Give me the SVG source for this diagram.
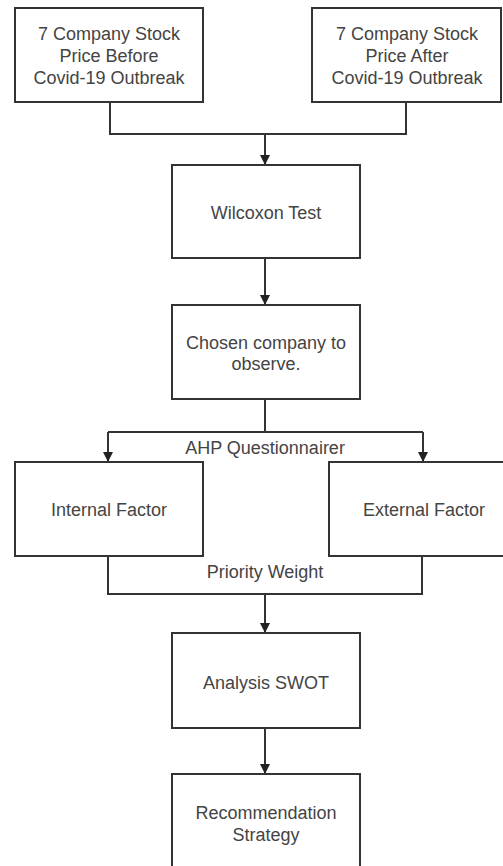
<svg xmlns="http://www.w3.org/2000/svg" width="503" height="866" viewBox="0 0 503 866">
<style>
.box{fill:#fff;stroke:#333;stroke-width:2}
.t{font-family:"Liberation Sans",Arial,sans-serif;font-size:18px;fill:#444;text-anchor:middle}
.c{fill:none;stroke:#333;stroke-width:2}
</style>
<defs>
<marker id="ah" viewBox="0 0 10 10" refX="10" refY="5" markerWidth="10" markerHeight="10" markerUnits="userSpaceOnUse" orient="auto">
<path d="M0,0 L10,5 L0,10 z" fill="#222"/>
</marker>
</defs>
<rect width="503" height="866" fill="#fff"/>
<g id="connectors">
<path class="c" d="M110,102 V134 H406 V102"/>
<path class="c" d="M265,134 V165" marker-end="url(#ah)"/>
<path class="c" d="M265,258 V305" marker-end="url(#ah)"/>
<path class="c" d="M265,399 V432"/>
<path class="c" d="M108,432 H423"/>
<path class="c" d="M108,432 V462" marker-end="url(#ah)"/>
<path class="c" d="M423,432 V462" marker-end="url(#ah)"/>
<path class="c" d="M108,556 V594 H422 V556"/>
<path class="c" d="M265,594 V633" marker-end="url(#ah)"/>
<path class="c" d="M265,728 V774" marker-end="url(#ah)"/>
<text class="t" x="265" y="454">AHP Questionnairer</text>
<text class="t" x="265" y="578">Priority Weight</text>
</g>
<g id="before">
<rect class="box" x="15" y="8" width="188" height="94"/>
<text class="t" x="109" y="40">7 Company Stock</text>
<text class="t" x="109" y="62">Price Before</text>
<text class="t" x="109" y="84">Covid-19 Outbreak</text>
</g>
<g id="after">
<rect class="box" x="312" y="8" width="189" height="94"/>
<text class="t" x="407" y="40">7 Company Stock</text>
<text class="t" x="407" y="62">Price After</text>
<text class="t" x="407" y="84">Covid-19 Outbreak</text>
</g>
<g id="wilcoxon">
<rect class="box" x="172" y="165" width="188" height="93"/>
<text class="t" x="266" y="219">Wilcoxon Test</text>
</g>
<g id="chosen">
<rect class="box" x="172" y="305" width="188" height="94"/>
<text class="t" x="266" y="349">Chosen company to</text>
<text class="t" x="266" y="370">observe.</text>
</g>
<g id="internal">
<rect class="box" x="15" y="462" width="188" height="94"/>
<text class="t" x="109" y="516">Internal Factor</text>
</g>
<g id="external">
<rect class="box" x="329" y="462" width="180" height="94"/>
<text class="t" x="424" y="516">External Factor</text>
</g>
<g id="swot">
<rect class="box" x="172" y="633" width="188" height="95"/>
<text class="t" x="266" y="689">Analysis SWOT</text>
</g>
<g id="recommendation">
<rect class="box" x="172" y="774" width="188" height="100"/>
<text class="t" x="266" y="819">Recommendation</text>
<text class="t" x="266" y="841">Strategy</text>
</g>
</svg>
